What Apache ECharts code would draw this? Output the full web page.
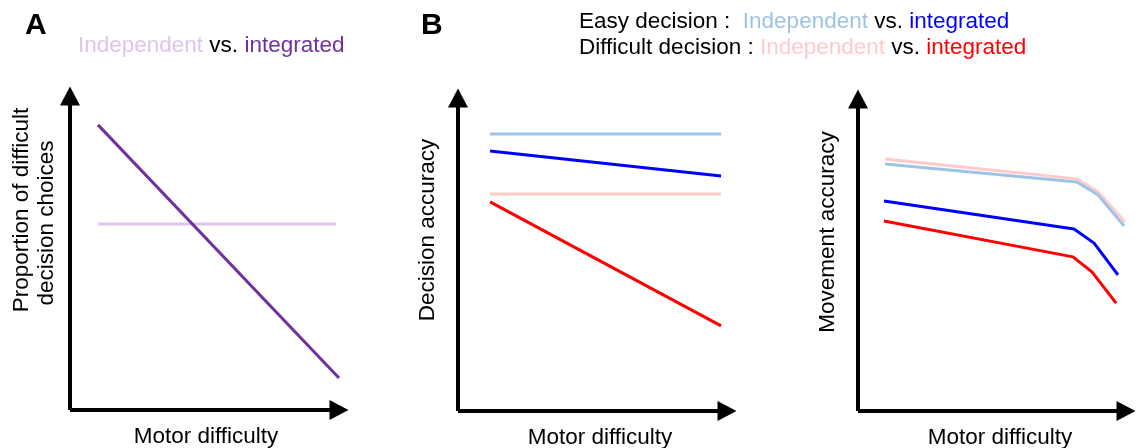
<!DOCTYPE html>
<html>
<head>
<meta charset="utf-8">
<script src="https://cdn.jsdelivr.net/npm/echarts@6/dist/echarts.min.js"></script>
<style>html,body{margin:0;padding:0;background:#fff}#c{width:1144px;height:448px}</style>
</head>
<body>
<div id="c"></div>
<script>
// ---- Data (arbitrary 0–100 units; x = motor difficulty, y = outcome) ----
// Panel A: proportion of difficult decision choices
const aIndepX = [10.4, 98.9];
const aIndepY = [59.2, 59.2];
const aIntegX = [10.4, 100.0];
const aIntegY = [90.8, 10.2];

// Panel B (left): decision accuracy
const bDecX = [11.9, 97.8];
const bDecEasyIndep = [88.5, 88.5];
const bDecEasyInteg = [83.1, 75.1];
const bDecDiffIndep = [69.3, 69.3];
const bDecDiffInteg = [66.8, 27.2];

// Panel B (right): movement accuracy
const bMovDiffIndepX = [10.1, 81.7, 89.6, 99.6];
const bMovDiffIndepY = [80.8, 74.4, 70.2, 60.6];
const bMovEasyIndepX = [10.1, 81.7, 89.6, 99.3];
const bMovEasyIndepY = [79.2, 73.4, 69.2, 59.3];
const bMovEasyIntegX = [9.7, 80.6, 88.1, 97.0];
const bMovEasyIntegY = [67.3, 58.3, 53.8, 43.6];
const bMovDiffIntegX = [9.7, 80.2, 87.3, 96.3];
const bMovDiffIntegY = [60.9, 49.4, 44.6, 34.6];

// Text
const xTitle = 'Motor difficulty';
const yTitleA = ['Proportion of difficult', 'decision choices'];
const yTitleB1 = 'Decision accuracy';
const yTitleB2 = 'Movement accuracy';

// ---- Styling ----
const FONT = '"Liberation Sans", Arial, sans-serif';
const FS = 22.5;
const C = {
  lpurple: '#dcc4ef', purple: '#7030a0',
  lblue: '#9dc3e6', blue: '#0000ff',
  pink: '#ffcaca', red: '#ff0000'
};
const namePad = [3, 15, 16];

const pair = (xs, ys) => xs.map((x, i) => [x, ys[i]]);

function axis(i, isX) {
  return {
    type: 'value', gridIndex: i, min: 0, max: 100,
    axisLine: { show: true, onZero: false, symbol: ['none', 'triangle'], symbolSize: [20, 19], symbolOffset: [0, 0],
      lineStyle: { color: '#000', width: 4, cap: 'butt' } },
    axisTick: { show: false }, axisLabel: { show: false }, splitLine: { show: false },
    name: isX ? xTitle : '', nameLocation: 'middle', nameGap: 15,
    nameTextStyle: { fontFamily: FONT, fontSize: FS, color: '#000', padding: [0, 0, 0, namePad[i]] }
  };
}

function line(i, data, color) {
  return { type: 'line', xAxisIndex: i, yAxisIndex: i, data: data, symbol: 'none', clip: false,
    lineStyle: { color: color, width: 3 }, itemStyle: { color: color }, silent: true };
}

function vtext(x, y, t) {
  return { type: 'text', x: x, y: y, rotation: Math.PI / 2,
    style: { text: t, font: FS + 'px ' + FONT, fill: '#000', align: 'center', verticalAlign: 'middle' } };
}

const rich = {
  k: { fontFamily: FONT, fontSize: FS, fill: '#000', color: '#000' },
  lp: { fontFamily: FONT, fontSize: FS, fill: C.lpurple, color: C.lpurple },
  dp: { fontFamily: FONT, fontSize: FS, fill: C.purple, color: C.purple },
  lb: { fontFamily: FONT, fontSize: FS, fill: C.lblue, color: C.lblue },
  b: { fontFamily: FONT, fontSize: FS, fill: C.blue, color: C.blue },
  pk: { fontFamily: FONT, fontSize: FS, fill: C.pink, color: C.pink },
  r: { fontFamily: FONT, fontSize: FS, fill: C.red, color: C.red }
};

function htext(x, y, t) {
  return { type: 'text', x: x, y: y,
    style: { text: t, rich: rich, font: FS + 'px ' + FONT, align: 'left', verticalAlign: 'middle' } };
}

const chart = echarts.init(document.getElementById('c'), null, { renderer: 'canvas' });
chart.setOption({
  animation: false,
  backgroundColor: '#fff',
  grid: [
    { left: 70, top: 96, width: 269, height: 314, outerBoundsMode: 'none', containLabel: false },
    { left: 458, top: 98, width: 269, height: 313, outerBoundsMode: 'none', containLabel: false },
    { left: 858, top: 99, width: 268, height: 312, outerBoundsMode: 'none', containLabel: false }
  ],
  xAxis: [axis(0, true), axis(1, true), axis(2, true)],
  yAxis: [axis(0, false), axis(1, false), axis(2, false)],
  series: [
    line(0, pair(aIndepX, aIndepY), C.lpurple),
    line(0, pair(aIntegX, aIntegY), C.purple),
    line(1, pair(bDecX, bDecEasyIndep), C.lblue),
    line(1, pair(bDecX, bDecEasyInteg), C.blue),
    line(1, pair(bDecX, bDecDiffIndep), C.pink),
    line(1, pair(bDecX, bDecDiffInteg), C.red),
    line(2, pair(bMovDiffIndepX, bMovDiffIndepY), C.pink),
    line(2, pair(bMovEasyIndepX, bMovEasyIndepY), C.lblue),
    line(2, pair(bMovEasyIntegX, bMovEasyIntegY), C.blue),
    line(2, pair(bMovDiffIntegX, bMovDiffIntegY), C.red)
  ],
  graphic: [
    { type: 'text', x: 25, y: 26, style: { text: 'A', font: 'bold 30px ' + FONT, fill: '#000', verticalAlign: 'middle' } },
    { type: 'text', x: 421, y: 26, style: { text: 'B', font: 'bold 30px ' + FONT, fill: '#000', verticalAlign: 'middle' } },
    htext(78, 46, '{lp|Independent} {k|vs.} {dp|integrated}'),
    htext(579, 22, '{k|Easy decision :  }{lb|Independent} {k|vs.} {b|integrated}'),
    htext(579, 48, '{k|Difficult decision : }{pk|Independent} {k|vs.} {r|integrated}'),
    vtext(22, 210, yTitleA[0]),
    vtext(47, 223, yTitleA[1]),
    vtext(428, 230, yTitleB1),
    vtext(828, 232, yTitleB2)
  ]
});
</script>
</body>
</html>
